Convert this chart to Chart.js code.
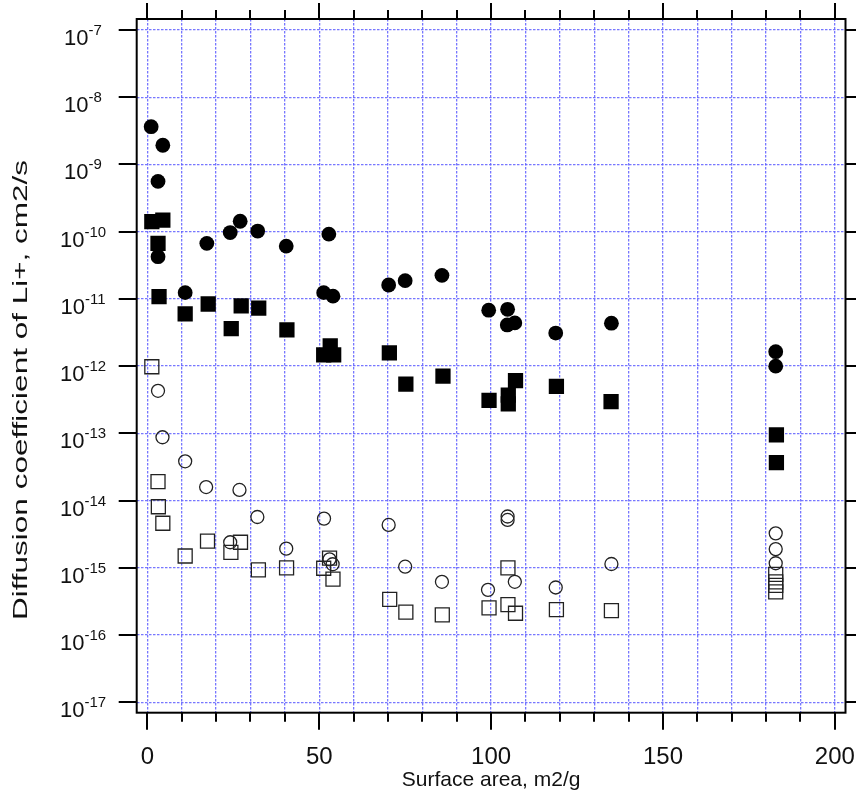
<!DOCTYPE html>
<html>
<head>
<meta charset="utf-8">
<script src="https://cdn.jsdelivr.net/npm/chart.js@4.4.1/dist/chart.umd.min.js"></script>
<style>
  html, body { margin: 0; padding: 0; background: #fff; }
</style>
</head>
<body>
<canvas id="diffChart" width="856" height="804"></canvas>
<script>
// D(Li+) for the four sample sets, plotted against BET surface area
const filledCircleX = [1.1, 4.5, 3.1, 3.1, 11.0, 17.3, 24.1, 27.0, 32.1, 40.4, 52.8, 51.3, 54.0,
  70.2, 75.0, 85.7, 99.3, 104.8, 104.7, 106.9, 118.8, 135.0, 182.8, 182.8];
const filledCircleY = [3.65e-9, 1.93e-9, 5.6e-10, 4.25e-11, 1.24e-11, 6.7e-11, 9.7e-11, 1.43e-10, 1.02e-10, 6.1e-11, 9.2e-11, 1.24e-11, 1.1e-11,
  1.61e-11, 1.87e-11, 2.24e-11, 6.8e-12, 7.0e-12, 4.1e-12, 4.4e-12, 3.1e-12, 4.35e-12, 1.64e-12, 1.0e-12];

const filledSquareX = [1.3, 4.5, 3.1, 3.4, 11.0, 17.7, 24.4, 27.3, 32.4, 40.6, 53.2, 51.3, 54.2,
  70.4, 75.2, 86.0, 99.4, 107.1, 105.0, 105.0, 119.0, 134.9, 183.0, 183.0];
const filledSquareY = [1.41e-10, 1.49e-10, 6.7e-11, 1.08e-11, 6.0e-12, 8.4e-12, 3.6e-12, 7.85e-12, 7.3e-12, 3.45e-12, 2.0e-12, 1.47e-12, 1.47e-12,
  1.58e-12, 5.4e-13, 7.1e-13, 3.1e-13, 6.1e-13, 3.7e-13, 2.75e-13, 5.0e-13, 2.96e-13, 9.5e-14, 3.66e-14];

const openCircleX = [3.1, 4.4, 11.0, 17.1, 26.8, 32.0, 51.4, 40.4, 24.1, 53.0, 53.9,
  70.2, 75.0, 85.7, 99.1, 104.8, 104.8, 106.9, 118.8, 135.0, 182.8, 182.8, 182.8];
const openCircleY = [4.3e-13, 8.75e-14, 3.84e-14, 1.59e-14, 1.44e-14, 5.7e-15, 5.4e-15, 1.93e-15, 2.4e-15, 1.34e-15, 1.13e-15,
  4.34e-15, 1.04e-15, 6.2e-16, 4.7e-16, 5.8e-15, 5.15e-15, 6.2e-16, 5.1e-16, 1.14e-15, 3.26e-15, 1.9e-15, 1.17e-15];

const openSquareX = [1.3, 3.1, 3.2, 4.5, 11.0, 17.5, 24.3, 27.1, 32.3, 40.5, 51.3, 53.0, 54.0,
  70.5, 75.2, 85.8, 99.4, 104.9, 104.9, 107.1, 119.0, 135.0, 182.8, 182.8, 182.8, 182.8];
const openSquareY = [9.8e-13, 1.91e-14, 8.1e-15, 4.6e-15, 1.5e-15, 2.5e-15, 1.7e-15, 2.4e-15, 9.3e-16, 9.95e-16, 9.85e-16, 1.39e-15, 6.8e-16,
  3.4e-16, 2.2e-16, 2.0e-16, 2.53e-16, 1.0e-15, 2.83e-16, 2.11e-16, 2.39e-16, 2.31e-16, 8.0e-16, 6.2e-16, 5.5e-16, 4.4e-16];

// axis ticks
const xTickValues = [0, 10, 20, 30, 40, 50, 60, 70, 80, 90, 100, 110, 120, 130, 140, 150, 160, 170, 180, 190, 200];
const xLabelValues = [0, 50, 100, 150, 200];
const yExponents = [-17, -16, -15, -14, -13, -12, -11, -10, -9, -8, -7];

const xTitle = 'Surface area, m2/g';
const yTitle = 'Diffusion coefficient of Li+, cm2/s';

const FONT = "'Liberation Sans', Arial, sans-serif";

function pts(xs, ys) {
  return xs.map((x, i) => ({ x: x, y: ys[i] }));
}

// frame, outward ticks on all four sides, y labels with exponents, y title
const framePlugin = {
  id: 'frame',
  afterDraw(chart) {
    const { ctx, chartArea: a, scales } = chart;
    const xs = scales.x, ys = scales.y;
    ctx.save();
    ctx.strokeStyle = '#000';
    ctx.lineWidth = 2;
    ctx.strokeRect(a.left, a.top, a.right - a.left, a.bottom - a.top);

    ctx.beginPath();
    xTickValues.forEach(v => {
      const px = Math.round(xs.getPixelForValue(v));
      const major = xLabelValues.includes(v);
      ctx.moveTo(px, a.bottom);
      ctx.lineTo(px, a.bottom + (major ? 17 : 9));
      ctx.moveTo(px, a.top);
      ctx.lineTo(px, a.top - (major ? 16 : 9));
    });
    yExponents.forEach(e => {
      const py = Math.round(ys.getPixelForValue(Math.pow(10, e)));
      ctx.moveTo(a.left - 18, py);
      ctx.lineTo(a.left, py);
      ctx.moveTo(a.right, py);
      ctx.lineTo(a.right + 18, py);
    });
    ctx.stroke();

    // 10^n labels
    ctx.fillStyle = '#111';
    ctx.textBaseline = 'alphabetic';
    ctx.textAlign = 'left';
    yExponents.forEach(e => {
      const py = ys.getPixelForValue(Math.pow(10, e));
      const sup = String(e);
      ctx.font = '22px ' + FONT;
      const wBase = ctx.measureText('10').width;
      ctx.font = '15px ' + FONT;
      const wSup = ctx.measureText(sup).width;
      const x0 = 83 - (wBase + wSup) / 2;
      ctx.font = '22px ' + FONT;
      ctx.fillText('10', x0, py + 15);
      ctx.font = '15px ' + FONT;
      ctx.fillText(sup, x0 + wBase, py + 5);
    });

    // vertical title, drawn a little stretched along its length
    ctx.save();
    ctx.translate(21, 390);
    ctx.rotate(-Math.PI / 2);
    ctx.scale(1.5, 1);
    ctx.font = '21px ' + FONT;
    ctx.textAlign = 'center';
    ctx.textBaseline = 'middle';
    ctx.fillText(yTitle, 0, 0);
    ctx.restore();

    ctx.restore();
  }
};

const gridColor = 'rgba(95, 95, 255, 0.85)';

const data = {
  datasets: [
    {
      label: 'open squares',
      data: pts(openSquareX, openSquareY),
      pointStyle: 'rect',
      pointRadius: 9.9,
      backgroundColor: 'rgba(0,0,0,0)',
      borderColor: '#222',
      pointBorderWidth: 1.3,
    },
    {
      label: 'open circles',
      data: pts(openCircleX, openCircleY),
      pointStyle: 'circle',
      pointRadius: 6.5,
      backgroundColor: 'rgba(0,0,0,0)',
      borderColor: '#222',
      pointBorderWidth: 1.3,
    },
    {
      label: 'filled squares',
      data: pts(filledSquareX, filledSquareY),
      pointStyle: 'rect',
      pointRadius: 10.8,
      backgroundColor: '#000',
      borderColor: '#000',
      pointBorderWidth: 0,
    },
    {
      label: 'filled circles',
      data: pts(filledCircleX, filledCircleY),
      pointStyle: 'circle',
      pointRadius: 7.4,
      backgroundColor: '#000',
      borderColor: '#000',
      pointBorderWidth: 0,
    },
  ],
};

const config = {
  type: 'scatter',
  data: data,
  options: {
    responsive: false,
    animation: false,
    devicePixelRatio: 1,
    events: [],
    layout: {
      autoPadding: false,
      padding: { top: 19, right: 10.5, bottom: 0, left: 0 },
    },
    plugins: {
      legend: { display: false },
      tooltip: { enabled: false },
    },
    scales: {
      x: {
        type: 'linear',
        min: -3.1,
        max: 203.1,
        afterFit: (scale) => {
          scale.height = 91.3;
          scale.paddingLeft = 0;
          scale.paddingRight = 0;
        },
        afterBuildTicks: (scale) => {
          scale.ticks = xTickValues.map(v => ({ value: v }));
        },
        grid: {
          color: gridColor,
          lineWidth: 1.3,
          drawTicks: false,
        },
        border: { display: false, dash: [2.5, 1.5] },
        ticks: {
          autoSkip: false,
          maxRotation: 0,
          padding: 30,
          color: '#111',
          font: { family: FONT, size: 24 },
          callback: (v) => (xLabelValues.includes(v) ? String(v) : ''),
        },
        title: {
          display: true,
          text: xTitle,
          color: '#111',
          font: { family: FONT, size: 21 },
          padding: { top: 0, bottom: 11 },
        },
      },
      y: {
        type: 'logarithmic',
        min: 7.0e-18,
        max: 1.457e-7,
        afterFit: (scale) => {
          scale.width = 136.7;
          scale.paddingTop = 0;
          scale.paddingBottom = 0;
        },
        afterBuildTicks: (scale) => {
          scale.ticks = yExponents.map(e => ({ value: Math.pow(10, e) }));
        },
        grid: {
          color: gridColor,
          lineWidth: 1.3,
          drawTicks: false,
        },
        border: { display: false, dash: [2.5, 1.5] },
        ticks: { display: false },
      },
    },
  },
  plugins: [framePlugin],
};

const diffChart = new Chart(document.getElementById('diffChart').getContext('2d'), config);
</script>
</body>
</html>
